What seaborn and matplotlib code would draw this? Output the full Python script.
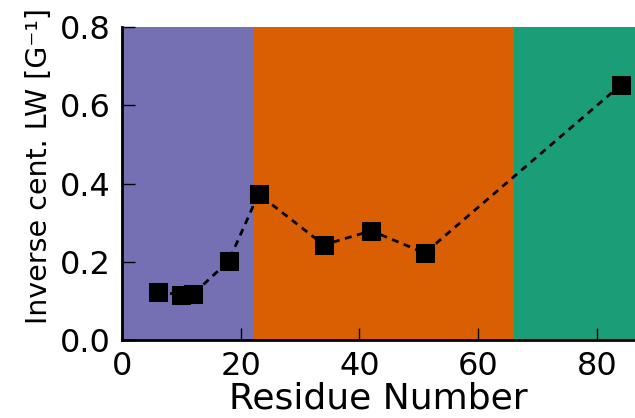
import matplotlib
matplotlib.use("Agg")
import matplotlib.pyplot as plt
import seaborn as sns
import pandas as pd

# residue positions and inverse central linewidth
residues = [6, 10, 12, 18, 23, 34, 42, 51, 84]
inv_lw = [0.123, 0.115, 0.117, 0.202, 0.373, 0.243, 0.279, 0.222, 0.652]

# domain boundaries (residue number)
region_edges = [0, 22, 66, 90]
region_colors = ["#7570b3", "#d95f02", "#1b9e77"]

df = pd.DataFrame({"Residue": residues, "InvLW": inv_lw})

sns.set_style("ticks")
plt.rcParams["font.family"] = ["DejaVu Sans"]
plt.rcParams["text.color"] = "black"
plt.rcParams["axes.labelcolor"] = "black"
plt.rcParams["xtick.color"] = "black"
plt.rcParams["ytick.color"] = "black"

fig = plt.figure(figsize=(6.35, 4.18), dpi=100)
ax = fig.add_axes([0.192, 0.187, 0.808, 0.748])

for i in range(len(region_colors)):
    ax.axvspan(region_edges[i], region_edges[i + 1], color=region_colors[i], lw=0, zorder=0)

sns.lineplot(data=df, x="Residue", y="InvLW", ax=ax, color="black",
             linestyle=(0, (2.5, 2)), linewidth=2, marker="s", markersize=12.5,
             markeredgecolor="black", zorder=3)

ax.set_xlim(0, 86.4)
ax.set_ylim(0, 0.8)
ax.set_xticks([0, 20, 40, 60, 80])
ax.set_yticks([0.0, 0.2, 0.4, 0.6, 0.8])
ax.yaxis.set_major_formatter(matplotlib.ticker.FormatStrFormatter("%.1f"))

ax.set_xlabel("Residue Number", fontsize=26, labelpad=0)
ax.set_ylabel("Inverse cent. LW [G\u207b\u00b9]", fontsize=20.5)
ax.yaxis.set_label_coords(-0.135, 0.556)
ax.tick_params(direction="in", length=9, width=1, labelsize=23, pad=8,
               top=False, right=False)

for s in ["top", "right"]:
    ax.spines[s].set_visible(False)
for s in ["left", "bottom"]:
    ax.spines[s].set_linewidth(2)
    ax.spines[s].set_color("black")

fig.savefig("out.png", dpi=100)
